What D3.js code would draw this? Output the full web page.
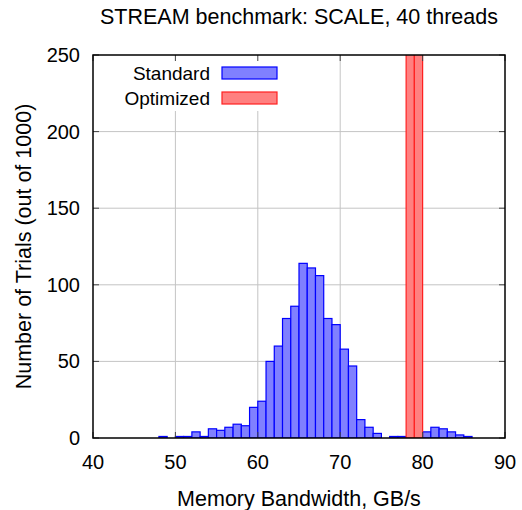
<!DOCTYPE html>
<html>
<head>
<meta charset="utf-8">
<script src="https://cdnjs.cloudflare.com/ajax/libs/d3/7.8.5/d3.min.js"></script>
<style>
  body { margin: 0; background: #fff; }
  text { font-family: "Liberation Sans", Arial, sans-serif; fill: #000; }
</style>
</head>
<body>
<svg id="chart" width="522" height="510"></svg>
<script>
// histogram bins, 1 GB/s wide, left edge of each bin
var standardBins = [48, 49, 50, 51, 52, 53, 54, 55, 56, 57, 58, 59, 60, 61, 62, 63, 64, 65, 66,
                    67, 68, 69, 70, 71, 72, 73, 74, 75, 76, 77, 78, 79, 80, 81, 82, 83, 84, 85];
var standardCounts = [1, 0, 1, 1, 4, 1, 6, 5, 7, 9, 8, 20, 24, 50, 60, 78, 86, 114, 111,
                      106, 78, 74, 58, 47, 12, 7, 3, 0, 1, 1, 0, 0, 4, 7, 6, 4, 2, 1];
var optimizedBins = [78, 79];
var optimizedCounts = [540, 460];

var xTicks = [40, 50, 60, 70, 80, 90];
var yTicks = [0, 50, 100, 150, 200, 250];
var seriesNames = ["Standard", "Optimized"];

var svg = d3.select("#chart");
var margin = {top: 55, right: 17, bottom: 72, left: 93};
var width = 522 - margin.left - margin.right;
var height = 510 - margin.top - margin.bottom;

var x = d3.scaleLinear().domain([40, 90]).range([0, width]);
var y = d3.scaleLinear().domain([0, 250]).range([height, 0]);

var g = svg.append("g").attr("transform", "translate(" + margin.left + "," + margin.top + ")");

g.append("defs").append("clipPath").attr("id", "clip")
  .append("rect").attr("width", width).attr("height", height);

// grid
g.append("g").selectAll("line").data(xTicks.slice(1, -1)).join("line")
  .attr("x1", d => x(d)).attr("x2", d => x(d))
  .attr("y1", 0).attr("y2", height)
  .attr("stroke", "#c4c4c4").attr("stroke-width", 1);
g.append("g").selectAll("line").data(yTicks.slice(1, -1)).join("line")
  .attr("y1", d => y(d)).attr("y2", d => y(d))
  .attr("x1", 0).attr("x2", width)
  .attr("stroke", "#c4c4c4").attr("stroke-width", 1);

// legend background hides the grid behind the key
g.append("rect").attr("x", 0).attr("y", 0).attr("width", 195).attr("height", 56).attr("fill", "#fff");

var bars = g.append("g").attr("clip-path", "url(#clip)");

function drawBars(bins, counts, fill, stroke) {
  bars.append("g").selectAll("rect").data(bins.map((b, i) => ({b: b, c: counts[i]})).filter(d => d.c > 0))
    .join("rect")
    .attr("x", d => x(d.b))
    .attr("width", d => x(d.b + 1) - x(d.b))
    .attr("y", d => y(d.c))
    .attr("height", d => y(0) - y(d.c))
    .attr("fill", fill)
    .attr("stroke", stroke)
    .attr("stroke-width", 1.2);
}
drawBars(standardBins, standardCounts, "#8080ff", "#0000ff");
drawBars(optimizedBins, optimizedCounts, "#ff8080", "#ff2020");

// ticks on all four sides, pointing inward
var tickLen = 6;
var tk = g.append("g").attr("stroke", "#444").attr("stroke-width", 1);
xTicks.forEach(function(t) {
  tk.append("line").attr("x1", x(t)).attr("x2", x(t)).attr("y1", height).attr("y2", height - tickLen);
  tk.append("line").attr("x1", x(t)).attr("x2", x(t)).attr("y1", 0).attr("y2", tickLen);
});
yTicks.forEach(function(t) {
  tk.append("line").attr("y1", y(t)).attr("y2", y(t)).attr("x1", 0).attr("x2", tickLen);
  tk.append("line").attr("y1", y(t)).attr("y2", y(t)).attr("x1", width).attr("x2", width - tickLen);
});

// border
g.append("rect").attr("width", width).attr("height", height)
  .attr("fill", "none").attr("stroke", "#000").attr("stroke-width", 1.5);

// tick labels
g.append("g").selectAll("text").data(xTicks).join("text")
  .attr("x", d => x(d)).attr("y", height + 31)
  .attr("text-anchor", "middle").attr("font-size", 20)
  .text(d => d);
g.append("g").selectAll("text").data(yTicks).join("text")
  .attr("x", -13).attr("y", d => y(d) + 7)
  .attr("text-anchor", "end").attr("font-size", 20)
  .text(d => d);

// legend
var legendColors = [["#8080ff", "#0000ff"], ["#ff8080", "#ff2020"]];
seriesNames.forEach(function(name, i) {
  var ly = 18 + i * 25;
  g.append("text").attr("x", 117).attr("y", ly + 6.5)
    .attr("text-anchor", "end").attr("font-size", 19).text(name);
  g.append("rect").attr("x", 129).attr("y", ly - 6).attr("width", 55).attr("height", 12)
    .attr("fill", legendColors[i][0]).attr("stroke", legendColors[i][1]).attr("stroke-width", 1.2);
});

// title and axis labels
svg.append("text").attr("x", 299).attr("y", 24).attr("text-anchor", "middle")
  .attr("font-size", 21.5).text("STREAM benchmark: SCALE, 40 threads");
svg.append("text").attr("x", margin.left + width / 2).attr("y", 506).attr("text-anchor", "middle")
  .attr("font-size", 21.5).text("Memory Bandwidth, GB/s");
svg.append("text").attr("transform", "translate(31," + (margin.top + height / 2) + ") rotate(-90)")
  .attr("text-anchor", "middle").attr("font-size", 21.5).text("Number of Trials (out of 1000)");
</script>
</body>
</html>
